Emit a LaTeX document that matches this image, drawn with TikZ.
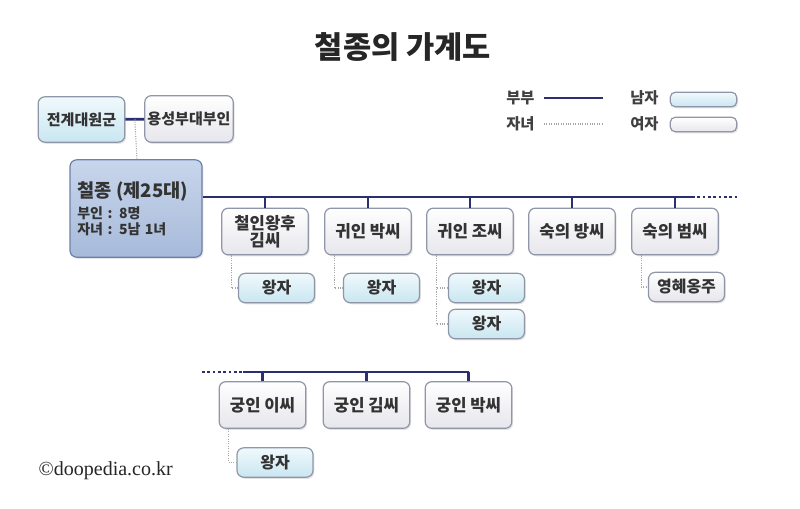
\documentclass[tikz,border=0pt]{standalone}
\usepackage{fontspec}
\setmainfont{Noto Sans CJK KR}
\newfontfamily\creditfont{Liberation Serif}
\usetikzlibrary{calc,shadows}

\definecolor{navy}{HTML}{2B2F72}
\definecolor{edge}{HTML}{8F96A8}
\definecolor{maletop}{HTML}{F0F9FC}
\definecolor{malebot}{HTML}{C9E6F1}
\definecolor{femtop}{HTML}{FFFFFF}
\definecolor{fembot}{HTML}{E6E6EC}
\definecolor{kingtop}{HTML}{C8D6EC}
\definecolor{kingbot}{HTML}{A7BADA}
\definecolor{kingedge}{HTML}{6D81A8}

\tikzset{
	box/.style={draw=edge, line width=0.9pt, rounded corners=5pt, align=center,
		minimum width=65pt, minimum height=35pt, inner sep=2pt,
		font=\fontsize{12.5}{14}\selectfont\bfseries, text=black!80,
		drop shadow={opacity=0.22, shadow xshift=1pt, shadow yshift=-1.2pt}},
	male/.style={box, top color=maletop, bottom color=malebot},
	female/.style={box, top color=femtop, bottom color=fembot},
	son/.style={male, minimum width=57pt, minimum height=22pt,
		font=\fontsize{12}{13}\selectfont\bfseries},
	daughter/.style={son, top color=femtop, bottom color=fembot},
	parent/.style={font=\fontsize{11.3}{13}\selectfont\bfseries},
	couple/.style={draw=navy, line width=2pt},
	child/.style={draw=black!35, densely dotted, line width=0.8pt},
	legend/.style={font=\fontsize{11.5}{13}\selectfont\bfseries, text=black!75, inner sep=0pt},
}

\begin{document}
\begin{tikzpicture}[x=0.75pt, y=-0.75pt]
		\useasboundingbox (0,0) rectangle (800,508);
		% 제목
		\node [font=\fontsize{23}{26}\selectfont\bfseries, text=black!85] (title) at (403,47) {철종의 가계도};
		% 범례
		\node [legend, anchor=west] (lcouple) at (506,98) {부부};
		\node [legend, anchor=west] (lchild) at (506,124) {자녀};
		\coordinate (lc1) at (544,98);
		\coordinate (lc2) at (603,98);
		\coordinate (ld1) at (544,124);
		\coordinate (ld2) at (603,124);
		\draw [couple] (lc1) -- (lc2);
		\draw [child] (ld1) -- (ld2);
		\node [legend, anchor=west] (lmale) at (630,98) {남자};
		\node [legend, anchor=west] (lfemale) at (630,124) {여자};
		\node [male, minimum width=50pt, minimum height=11pt, rounded corners=4pt] (mbox) at (703.5,99.5) {};
		\node [female, minimum width=50pt, minimum height=11pt, rounded corners=4pt] (fbox) at (703.5,124.5) {};
		% 부모
		\node [male, parent, minimum height=34pt] (father) at (81.5,119.5) {전계대원군};
		\node [female, parent, minimum height=35pt] (mother) at (189,119) {용성부대부인};
		\draw [couple] (father) -- (mother);
		% 철종
		\node [box, top color=kingtop, bottom color=kingbot, draw=kingedge,
			minimum width=99pt, minimum height=73pt, text width=88pt, align=left,
			inner xsep=5.5pt, font=\bfseries, text=black!80] (king) at (136,208.5)
			{\mbox{\fontsize{14}{18}\selectfont 철종 (제25대)}\\[1pt]
			{\fontsize{10.5}{15}\selectfont 부인 : 8명\\자녀 : 5남 1녀}};
		\draw [child] ($(father.east)!0.5!(mother.west)$) -- (king.north -| 137,0);
		% 부인 (윗줄)
		\node [female] (w1) at (265,231.5) {철인왕후\\[-1pt]김씨};
		\node [female] (w2) at (368,231.5) {귀인 박씨};
		\node [female] (w3) at (470,231.5) {귀인 조씨};
		\node [female] (w4) at (572,231.5) {숙의 방씨};
		\node [female] (w5) at (675,231.5) {숙의 범씨};
		\coordinate (bus) at (692,197);
		\coordinate (busdots) at (737,197);
		\draw [couple] (king.east |- bus) -- (bus);
		\draw [couple, dotted, line width=1.6pt] (bus) -- (busdots);
		\foreach \w in {w1,w2,w3,w4,w5}
			\draw [couple, line width=1.6pt] (\w.north) -- (\w.north |- bus);
		% 자녀 (윗줄)
		\node [son] (s1) at (276.5,288) {왕자};
		\node [son] (s2) at (381.5,288) {왕자};
		\node [son] (s3) at (486.5,288) {왕자};
		\node [son] (s4) at (486.5,324) {왕자};
		\node [daughter] (d1) at (686.5,287) {영혜옹주};
		\draw [child] ($(w1.south west)+(10,0)$) |- (s1.west);
		\draw [child] ($(w2.south west)+(10,0)$) |- (s2.west);
		\draw [child] ($(w3.south west)+(10,0)$) |- (s3.west);
		\draw [child] ($(w3.south west)+(10,0)$) |- (s4.west);
		\draw [child] ($(w5.south west)+(10,0)$) |- (d1.west);
		% 부인 (아랫줄)
		\node [female] (q1) at (262.5,405) {궁인 이씨};
		\node [female] (q2) at (366.5,405) {궁인 김씨};
		\node [female] (q3) at (468.5,405) {궁인 박씨};
		\coordinate (bus2dots) at (202,372);
		\coordinate (bus2) at (243,372);
		\draw [couple, dotted, line width=1.6pt] (bus2dots) -- (bus2);
		\draw [couple] (bus2) -- (q3.north |- bus2);
		\foreach \w in {q1,q2,q3}
			\draw [couple, line width=1.6pt] (\w.north) -- (\w.north |- bus2);
		\node [son] (s5) at (275,462.5) {왕자};
		\draw [child] ($(q1.south west)+(10,0)$) |- (s5.west);
		% 출처
		\node [anchor=west, font=\creditfont\fontsize{15}{17}\selectfont, text=black!85] (credit) at (34,471) {©doopedia.co.kr};
	\end{tikzpicture}
\end{document}
